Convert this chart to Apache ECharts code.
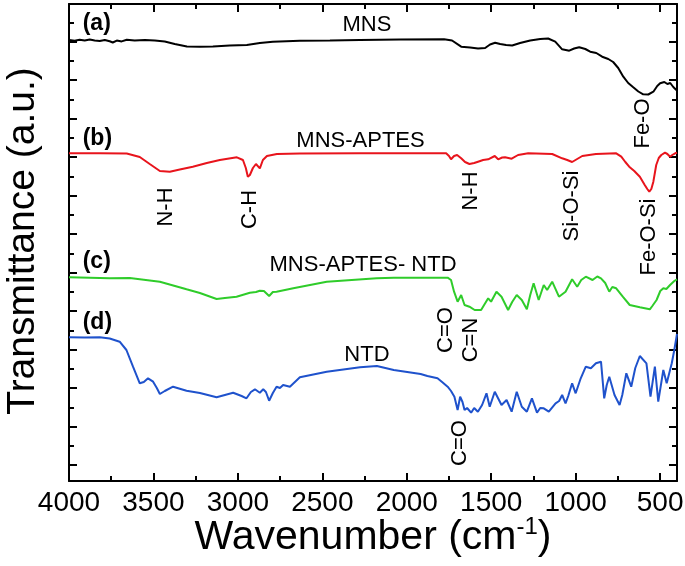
<!DOCTYPE html>
<html>
<head>
<meta charset="utf-8">
<script src="https://cdn.jsdelivr.net/npm/echarts@6/dist/echarts.min.js"></script>
<style>html,body{margin:0;padding:0;background:#fff}#chart{width:685px;height:566px}</style>
</head>
<body>
<div id="chart"></div>
<script>
// ---- data: [wavenumber (cm-1), transmittance (a.u., offset per trace)] ----
const mnsData = [
[4000,44.1],[3966,44.02],[3937,44.12],[3907,44.04],[3877,44.14],[3848,44.04],[3818,44.0],[3788,44.1],[3759,43.97],[3741,43.85],
[3717,44.04],[3688,43.96],[3658,44.12],[3611,44.04],[3551,44.1],[3492,44.05],[3433,43.95],[3374,43.7],[3302,43.45],[3225,43.42],
[3148,43.45],[3048,43.55],[2947,43.6],[2870,43.8],[2793,43.93],[2633,44.02],[2455,44.05],[2277,44.1],[2040,44.15],[1779,44.17],
[1732,44.05],[1678,43.43],[1625,43.35],[1578,43.25],[1536,43.3],[1507,43.65],[1477,43.83],[1447,43.7],[1412,43.6],[1376,43.55],
[1329,43.8],[1269,44.05],[1210,44.2],[1163,44.25],[1121,43.93],[1080,43.17],[1038,43.03],[1009,43.25],[979,43.37],[943,43.2],
[914,42.93],[878,42.8],[843,42.43],[807,42.2],[778,41.9],[748,41.3],[718,40.43],[689,39.8],[659,39.37],[629,38.95],
[600,38.67],[570,38.65],[540,38.93],[517,39.5],[500,39.77],[475,39.9],[457,39.7],[440,39.8],[422,39.4],[404,39.1],[400,39.25]
];
const mnsAptesData = [
[4000,32.77],[3818,32.77],[3658,32.75],[3581,32.4],[3522,31.7],[3462,31.0],[3403,30.93],[3344,31.15],[3267,31.43],[3184,31.8],
[3107,32.1],[3006,32.37],[2970,32.1],[2953,31.3],[2941,30.43],[2929,30.6],[2911,31.3],[2893,31.7],[2882,31.6],[2870,31.27],
[2852,32.1],[2828,32.5],[2769,32.7],[2633,32.75],[2277,32.77],[1767,32.77],[1750,32.5],[1738,32.17],[1720,32.5],[1702,32.6],
[1678,32.27],[1655,31.9],[1629,31.7],[1601,31.8],[1578,31.93],[1548,32.1],[1518,32.17],[1479,32.5],[1459,32.17],[1435,32.35],
[1418,32.37],[1379,32.23],[1341,32.6],[1281,32.77],[1139,32.7],[1080,32.27],[1050,32.1],[1021,31.9],[991,32.2],[961,32.5],
[880,32.7],[760,32.77],[730,32.43],[706,31.9],[683,31.43],[653,31.0],[620,30.43],[591,29.6],[576,29.2],[564,28.93],
[552,29.2],[540,29.93],[523,31.6],[508,32.3],[493,32.6],[471,32.83],[457,32.7],[441,32.43],[428,32.6],[411,32.77],[400,32.83]
];
const mnsAptesNtdData = [
[4000,20.37],[3877,20.33],[3759,20.27],[3640,20.3],[3462,19.93],[3304,19.17],[3225,18.8],[3126,18.2],[3077,18.3],[3008,18.43],
[2929,18.83],[2893,18.9],[2870,19.03],[2846,19.0],[2815,18.5],[2793,18.9],[2771,18.93],[2672,19.27],[2474,19.93],[2178,20.27],
[2077,20.33],[1758,20.33],[1738,20.1],[1720,18.93],[1699,17.93],[1678,18.6],[1658,17.6],[1629,17.43],[1598,17.1],[1560,17.1],
[1518,18.27],[1501,17.93],[1469,18.93],[1439,18.43],[1400,17.1],[1376,17.9],[1349,18.6],[1319,18.1],[1289,17.17],[1269,18.6],
[1249,19.77],[1219,18.1],[1189,19.6],[1169,19.1],[1139,19.93],[1099,18.43],[1060,18.93],[1021,20.17],[991,19.43],[967,20.1],
[940,20.43],[900,20.1],[872,20.45],[850,20.27],[825,19.8],[801,18.93],[783,19.4],[760,19.27],[721,18.43],[680,17.6],
[620,17.37],[561,17.17],[546,17.5],[521,18.1],[499,19.0],[481,19.27],[463,19.2],[441,19.6],[416,20.0],[400,20.17]
];
const ntdData = [
[4000,14.37],[3907,14.35],[3818,14.37],[3759,14.25],[3700,13.93],[3660,13.1],[3621,11.43],[3581,9.77],[3557,9.9],[3532,10.27],
[3502,9.93],[3480,9.3],[3462,8.7],[3433,9.0],[3384,9.43],[3304,9.03],[3225,8.8],[3126,8.37],[3028,8.83],[2978,8.5],
[2949,8.27],[2923,8.9],[2899,9.17],[2870,8.83],[2850,9.17],[2834,8.9],[2815,8.03],[2793,8.8],[2771,9.43],[2751,9.3],
[2732,9.6],[2692,9.43],[2633,10.37],[2474,10.93],[2277,11.37],[2177,11.5],[2077,11.1],[1918,10.7],[1878,10.5],[1818,10.27],
[1791,9.9],[1758,9.43],[1738,9.0],[1718,8.43],[1699,7.1],[1684,8.43],[1670,7.9],[1658,7.1],[1643,7.3],[1619,6.83],
[1601,7.3],[1579,6.93],[1554,7.6],[1528,8.77],[1509,7.43],[1479,8.93],[1439,7.6],[1409,8.1],[1379,6.93],[1349,8.93],
[1319,7.43],[1289,6.93],[1259,8.27],[1229,6.83],[1210,7.3],[1189,7.27],[1159,6.93],[1119,7.77],[1098,8.0],[1080,8.6],
[1060,7.77],[1044,8.5],[1021,9.77],[1000,8.77],[970,10.27],[940,11.43],[910,11.27],[880,11.77],[850,11.93],[831,8.27],
[816,9.6],[801,10.43],[770,8.6],[740,7.6],[724,8.6],[700,10.77],[671,9.43],[647,11.3],[620,12.5],[581,11.77],
[557,8.43],[531,11.43],[511,7.93],[481,11.1],[461,9.77],[431,11.77],[416,13.1],[400,14.7]
];
const seriesNames = ['MNS', 'MNS-APTES', 'MNS-APTES- NTD', 'NTD'];
const panelTags = ['(a)', '(b)', '(c)', '(d)'];
const seriesColors = ['#000000', '#e8141c', '#2fcc2a', '#1f52cc'];
const wnMajorTicks = [4000, 3500, 3000, 2500, 2000, 1500, 1000, 500];
const wnMinorTicks = [3750, 3250, 2750, 2250, 1750, 1250, 750];
const bandLabels = [
  // [text, wavenumber, transmittance]
  ['Fe-O', 600, 35.75],
  ['N-H', 3424, 27.4],
  ['C-H', 2929, 27.15],
  ['N-H', 1619, 29.0],
  ['Si-O-Si', 1021, 27.5],
  ['Fe-O-Si', 567, 24.4],
  ['C=O', 1767, 15.1],
  ['C=N', 1619, 14.1],
  ['C=O', 1684, 3.8]
];

// ---- axis frame settings ----
const X_MIN = 400, X_MAX = 4000, Y_MIN = 0, Y_MAX = 47.7;
const Y_TICK_START = 1.6, Y_TICK_STEP = 3.848, Y_TICK_COUNT = 12;
const yMajor = [], yMinor = [];
for (let k = 0; k < Y_TICK_COUNT; k++) {
  yMajor.push(+(Y_TICK_START + k * Y_TICK_STEP).toFixed(3));
  yMinor.push(+(Y_TICK_START + Y_TICK_STEP / 2 + k * Y_TICK_STEP).toFixed(3));
}
const FONT = "'Liberation Sans', Arial, sans-serif";
const frameLine = { show: true, onZero: false, lineStyle: { color: '#000', width: 2 } };
const noLine = { show: false, onZero: false };

function xAx(pos, ticks, len, withLabels, showLine) {
  return {
    type: 'value', min: X_MIN, max: X_MAX, inverse: true, position: pos,
    axisLine: showLine ? frameLine : noLine,
    axisTick: { show: true, inside: true, length: len, customValues: ticks, lineStyle: { color: '#000', width: 2 } },
    axisLabel: withLabels ? { show: true, customValues: ticks, fontSize: 28, fontFamily: FONT, color: '#000', margin: 8,
      formatter: v => String(v), hideOverlap: false, showMinLabel: true, showMaxLabel: true } : { show: false },
    splitLine: { show: false }
  };
}
function yAx(pos, ticks, len, showLine) {
  return {
    type: 'value', min: Y_MIN, max: Y_MAX, position: pos,
    axisLine: showLine ? frameLine : noLine,
    axisTick: { show: true, inside: true, length: len, customValues: ticks, lineStyle: { color: '#000', width: 2 } },
    axisLabel: { show: false },
    splitLine: { show: false }
  };
}

const chart = echarts.init(document.getElementById('chart'), null, { renderer: 'canvas' });
const dataSets = [mnsData, mnsAptesData, mnsAptesNtdData, ntdData];

// graphic texts placed through the chart's own coordinate conversion
function buildGraphics() {
  const g = [];
  const toPx = (wn, t) => chart.convertToPixel({ xAxisIndex: 0, yAxisIndex: 0 }, [wn, t]);
  const tagT = [45.7, 34.2, 21.9, 15.8];
  const nameT = [45.65, 34.0, 21.6, 12.65];
  const nameWn = [2236, 2274, 2259, 2236];
  for (let i = 0; i < 4; i++) {
    const p = toPx(3919, tagT[i]);
    g.push({ type: 'text', x: p[0], y: p[1], style: { text: panelTags[i], fontSize: 23, fontWeight: 'bold', fontFamily: FONT, fill: '#000', align: 'left', verticalAlign: 'middle' } });
    const q = toPx(nameWn[i], nameT[i]);
    g.push({ type: 'text', x: q[0], y: q[1], style: { text: seriesNames[i], fontSize: 22, fontFamily: FONT, fill: '#000', align: 'center', verticalAlign: 'middle' } });
  }
  bandLabels.forEach(b => {
    const p = toPx(b[1], b[2]);
    g.push({ type: 'text', x: p[0], y: p[1], rotation: Math.PI / 2, style: { text: b[0], fontSize: 22, fontFamily: FONT, fill: '#000', align: 'center', verticalAlign: 'middle' } });
  });
  g.push({ type: 'text', x: 373, y: 538, style: {
    text: 'Wavenumber (cm{sup|-1})', fontSize: 41, fontFamily: FONT, fill: '#000', align: 'center', verticalAlign: 'middle', lineHeight: 46,
    rich: { sup: { fontSize: 24, fontFamily: FONT, fill: '#000', verticalAlign: 'top', lineHeight: 24 } }
  } });
  g.push({ type: 'text', x: 23, y: 241, rotation: Math.PI / 2, style: {
    text: 'Transmittance (a.u.)', fontSize: 39, fontFamily: FONT, fill: '#000', align: 'center', verticalAlign: 'middle'
  } });
  return g;
}

const option = {
  animation: false,
  backgroundColor: '#fff',
  grid: { left: 69, right: 8, top: 4, bottom: 85, containLabel: false, outerBoundsMode: 'none' },
  xAxis: [
    xAx('bottom', wnMajorTicks, 8, true, true),
    xAx('bottom', wnMinorTicks, 5, false, false),
    xAx('top', wnMajorTicks, 8, false, true),
    xAx('top', wnMinorTicks, 5, false, false)
  ],
  yAxis: [
    yAx('left', yMajor, 8, true),
    yAx('left', yMinor, 5, false),
    yAx('right', yMajor, 8, true),
    yAx('right', yMinor, 5, false)
  ],
  series: dataSets.map((d, i) => ({
    name: seriesNames[i], type: 'line', data: d, xAxisIndex: 0, yAxisIndex: 0,
    showSymbol: false, symbol: 'none', smooth: false,
    lineStyle: { color: seriesColors[i], width: 2 }, z: 3
  }))
};
chart.setOption(option);
chart.setOption({ graphic: buildGraphics() });
</script>
</body>
</html>
